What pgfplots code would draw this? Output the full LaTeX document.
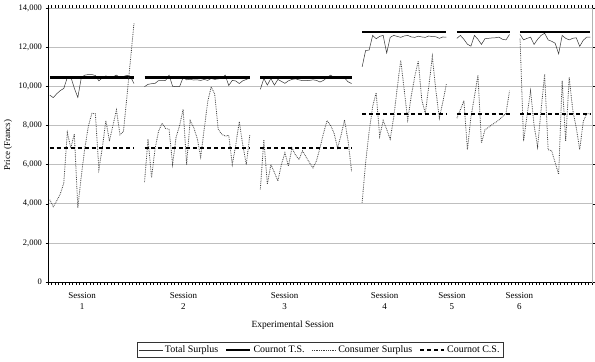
\documentclass[border=0pt]{standalone}
\usepackage{pgfplots}
\usepackage{pgfplotstable}
\pgfplotsset{compat=1.18}
\usepackage{fontspec}
\setmainfont{Liberation Serif}
\pgfplotstableread{
ts cs
9550 4200
9420 3850
9620 4150
9780 4500
9890 5050
10450 7640
10480 6850
9900 7560
9430 3800
10450 5430
10570 6850
10600 7960
10600 8620
10550 8590
10280 5750
10430 6900
10530 8250
10470 7200
10480 8000
10570 8790
10450 7520
10500 7700
10560 9500
10500 11350
10140 13220
nan nan
nan nan
9980 5100
10100 7300
10130 5330
10150 6800
10290 7700
10290 8115
10300 7850
10570 7800
10000 6000
9980 7400
9990 8000
10450 8825
10330 6000
10360 8250
10320 7900
10330 7350
10300 6390
10350 7800
10300 9200
10400 9975
10350 9600
10380 7800
10400 7550
10570 7450
10040 7500
10300 6000
10270 7000
10140 8200
10280 7000
10350 6000
10420 7500
nan nan
nan nan
9840 4730
10400 7270
10060 4990
10400 6000
10060 5600
10350 5160
10250 6000
10150 6600
10280 5920
10350 6850
10380 6500
10330 6250
10290 6700
10290 6400
10300 6100
10330 5830
10300 6200
10220 6850
10300 7600
10450 8250
10570 8000
10450 7610
10470 6850
10450 7500
10420 8280
10230 7200
10140 5660
nan nan
nan nan
10990 4060
11830 6100
11850 7690
12600 8960
12430 9670
12550 7440
12600 8250
11700 7800
12500 7300
12600 8400
12550 9900
12500 11330
12570 9800
12600 8280
12520 9500
12500 10500
12560 11300
12520 9300
12500 8620
12570 10000
12540 11530
12530 9800
12450 8370
12520 9200
12510 10110
nan nan
nan nan
12450 8370
12600 8800
12400 9260
12150 6760
12050 8420
12600 9470
12400 10570
12140 7100
12430 7780
12450 7900
12470 8040
12480 8150
12510 8280
12400 8450
12370 8620
12650 9770
nan nan
nan nan
12650 12430
12370 7200
12450 8500
12510 9770
12140 8000
12400 6900
12600 8800
12710 10620
12370 6760
12300 6700
12200 6100
11660 5500
12600 10280
12450 7200
12370 10450
12450 8800
12480 7900
12040 6760
12350 8200
12510 8600
12510 8590
}\data

\begin{document}
\begin{tikzpicture}
\begin{axis}[
  at={(0,0)}, anchor=south west,
  scale only axis, width=544bp, height=274bp,
  xmin=-0.5, xmax=154.5, ymin=0, ymax=14000,
  unbounded coords=jump,
  axis line style={gray!60, line width=0.5pt},
  tick align=outside,
  major tick length=2.5bp,
  tick style={black, line width=0.4pt},
  xtick={-0.5,0.5,...,154.5},
  xticklabels={},
  extra x ticks={9.2,38.1,66.9,95.4,114.6,133.8},
  extra x tick labels={{Session\\1},{Session\\2},{Session\\3},{Session\\4},{Session\\5},{Session\\6}},
  extra x tick style={major tick length=0pt, xticklabel style={align=center, yshift=-7bp, font=\fontsize{9}{11.5}\selectfont}},
  ytick={0,2000,...,14000},
  yticklabels={0,{2,000},{4,000},{6,000},{8,000},{10,000},{12,000},{14,000}},
  yticklabel style={font=\fontsize{8.5}{10}\selectfont},
  ymajorgrids,
  grid style={gray!50, line width=0.5pt},
  every axis y label/.style={at={(axis description cs:0,0.5)}, xshift=-40bp, rotate=90, anchor=center, font=\fontsize{9}{10}\selectfont},
  ylabel={Price (Francs)},
  every axis x label/.style={at={(axis description cs:0.45,0)}, yshift=-43bp, anchor=center, font=\fontsize{9.5}{11}\selectfont},
  xlabel={Experimental Session},
  legend style={at={(axis description cs:0.5,0)}, anchor=north, yshift=-60bp,
    draw=black!80, line width=0.5pt, font=\fontsize{10}{11.5}\selectfont,
    inner sep=1.5bp, row sep=0pt,
    /tikz/every even column/.append style={column sep=5bp},
    /tikz/every odd column/.append style={column sep=0bp}},
  legend columns=4,
  legend image code/.code={\draw[#1] (0bp,0bp) -- (24bp,0bp);},
]
\addplot[black!80, line width=0.5pt] table[x expr=\coordindex, y=ts]{\data};
\addlegendentry{Total Surplus}
\addplot[black, line width=2.3pt] coordinates {(0,10450) (24,10450) (25,nan) (27,10450) (57,10450) (58,nan) (60,10450) (86,10450) (87,nan) (89,12790) (113,12790) (114,nan) (116,12790) (131,12790) (132,nan) (134,12790) (154,12790)};
\addlegendentry{Cournot T.S.}
\addplot[black!75, line width=0.8pt, dash pattern=on 0.8pt off 1pt] table[x expr=\coordindex, y=cs]{\data};
\addlegendentry{Consumer Surplus}
\addplot[black, line width=2pt, dash pattern=on 4pt off 3pt] coordinates {(0,6850) (24,6850) (25,nan) (27,6850) (57,6850) (58,nan) (60,6850) (86,6850) (87,nan) (89,8590) (113,8590) (114,nan) (116,8590) (131,8590) (132,nan) (134,8590) (154,8590)};
\addlegendentry{Cournot C.S.}
\draw[black, line width=0.5pt] (rel axis cs:0,1) -- (rel axis cs:0,0) -- (rel axis cs:1,0);
\end{axis}
\pgfresetboundingbox
\path[use as bounding box] (-48bp,-80bp) rectangle (547bp,282bp);
\end{tikzpicture}
\end{document}
